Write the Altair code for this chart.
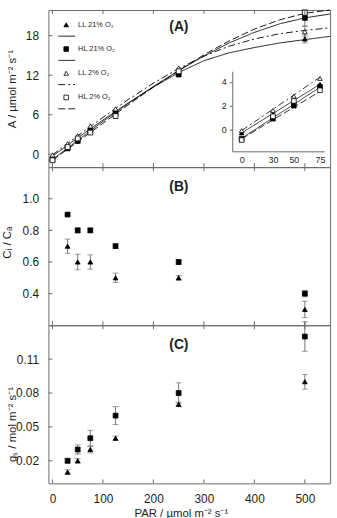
import altair as alt
import pandas as pd

# ---------------- data ----------------
SERIES = ["LL 21% O₂", "HL 21% O₂", "LL 2% O₂", "HL 2% O₂"]
SHAPES = ["triangle-up", "square", "triangle-up", "square"]
FILLED = [True, True, False, False]
DASHES = [[1, 0], [1, 0], [7, 3, 2, 3], [7, 3]]

# (A) net assimilation, µmol m-2 s-1
PAR_A = [0, 30, 50, 75, 125, 250, 500]
A_MEAN = {
    "LL 21% O₂": [-0.3, 1.3, 2.3, 3.8, 6.4, 12.4, 17.5],
    "HL 21% O₂": [-0.8, 0.9, 2.0, 3.6, 6.2, 12.1, 20.7],
    "LL 2% O₂": [-0.1, 1.6, 2.8, 4.3, 6.9, 13.1, 18.6],
    "HL 2% O₂": [-0.9, 1.1, 2.4, 3.3, 5.8, 12.6, 21.5],
}
A_SE = {
    "LL 21% O₂": [0, 0, 0, 0, 0, 0, 0.6],
    "HL 21% O₂": [0, 0, 0, 0, 0, 0, 1.2],
    "LL 2% O₂": [0, 0, 0, 0, 0, 0, 0.8],
    "HL 2% O₂": [0, 0, 0, 0, 0, 0, 0.4],
}
# fitted light-response curves
FIT_PAR = [0, 50, 100, 150, 200, 250, 300, 350, 400, 450, 500, 550]
A_FIT = {
    "LL 21% O₂": [-0.3, 2.5, 5.2, 7.8, 10.2, 12.4, 14.2, 15.4, 16.2, 16.9, 17.4, 17.9],
    "HL 21% O₂": [-0.8, 2.1, 5.0, 7.7, 10.3, 12.7, 14.9, 16.9, 18.5, 19.8, 20.7, 21.3],
    "LL 2% O₂": [-0.1, 2.8, 5.6, 8.3, 10.8, 13.0, 14.9, 16.4, 17.5, 18.3, 18.8, 19.2],
    "HL 2% O₂": [-0.9, 1.9, 4.7, 7.5, 10.2, 12.7, 15.1, 17.2, 19.0, 20.4, 21.4, 21.9],
}
# low-light linear fits (inset)
INSET_PAR = [0, 75]
INSET_FIT = {
    "LL 21% O₂": [-0.3, 3.8],
    "HL 21% O₂": [-0.75, 3.55],
    "LL 2% O₂": [-0.1, 4.4],
    "HL 2% O₂": [-0.8, 3.2],
}

# (B) Ci/Ca and (C) stomatal conductance
PAR_BC = [30, 50, 75, 125, 250, 500]
CICA_LL = [0.7, 0.6, 0.6, 0.5, 0.5, 0.3]
CICA_LL_SE = [0.045, 0.05, 0.045, 0.03, 0.015, 0.052]
CICA_HL = [0.9, 0.8, 0.8, 0.7, 0.6, 0.4]
CICA_HL_SE = [0.005, 0.015, 0.015, 0.015, 0.015, 0.02]
GS_LL = [0.01, 0.02, 0.03, 0.04, 0.07, 0.09]
GS_LL_SE = [0.002, 0.002, 0.003, 0.002, 0.002, 0.0065]
GS_HL = [0.02, 0.03, 0.04, 0.06, 0.08, 0.13]
GS_HL_SE = [0.002, 0.004, 0.007, 0.008, 0.009, 0.013]

X_TICKS = [0, 100, 200, 300, 400, 500]
YA_TICKS = [0, 6, 12, 18]
YB_TICKS = [0.4, 0.6, 0.8, 1.0]
YC_TICKS = [0.02, 0.05, 0.08, 0.11]

# ---------------- styling ----------------
W = 285
HA, HB, HC = 159, 160, 160
FONT = "Liberation Sans"
FRAME = "#6b6b6b"
TXT = "#1e1e1e"
ERR = "#555555"
XSCALE = alt.Scale(domain=[-8, 550], nice=False, zero=False)
X = alt.X("par:Q", scale=XSCALE)


def y_axis(title, values, fmt, tx, ty):
    return alt.Axis(title=title, values=values, format=fmt, ticks=False, domain=False,
                    grid=False, labelFont=FONT, labelFontSize=12, labelColor=TXT,
                    labelPadding=10, titleFont=FONT, titleFontSize=11.5,
                    titleFontWeight="normal", titleColor=TXT, titleAngle=270,
                    titleBaseline="middle", titleX=tx, titleY=ty)


def points(df, yscale, shape, filled, size=24):
    return alt.Chart(df).mark_point(
        shape=shape, filled=True, fill="black" if filled else "white",
        stroke="black", strokeWidth=0.8, size=size, opacity=1,
    ).encode(x=X, y=alt.Y("val:Q", scale=yscale))


def errorbars(df, yscale, cap=6):
    df = df[df["se"] > 0].copy()
    df["lo"] = df["val"] - df["se"]
    df["hi"] = df["val"] + df["se"]
    bar = alt.Chart(df).mark_rule(color=ERR, strokeWidth=0.8).encode(
        x=X, y=alt.Y("lo:Q", scale=yscale), y2="hi:Q")
    lo = alt.Chart(df).mark_tick(color=ERR, orient="horizontal", size=cap, thickness=0.8).encode(
        x=X, y=alt.Y("lo:Q", scale=yscale))
    hi = alt.Chart(df).mark_tick(color=ERR, orient="horizontal", size=cap, thickness=0.8).encode(
        x=X, y=alt.Y("hi:Q", scale=yscale))
    return [bar, lo, hi]


def inward_ticks(height, yvals, yscale, ln=4):
    xt = pd.DataFrame({"par": X_TICKS})
    yt = pd.DataFrame({"val": yvals})
    top = alt.Chart(xt).mark_rule(color=FRAME, strokeWidth=1).encode(
        x=X, y=alt.value(0), y2=alt.value(ln))
    bot = alt.Chart(xt).mark_rule(color=FRAME, strokeWidth=1).encode(
        x=X, y=alt.value(height), y2=alt.value(height - ln))
    left = alt.Chart(yt).mark_rule(color=FRAME, strokeWidth=1).encode(
        y=alt.Y("val:Q", scale=yscale), x=alt.value(0), x2=alt.value(ln))
    return [top, bot, left]


def panel_label(text, x, y):
    return alt.Chart(pd.DataFrame({"t": [text]})).mark_text(
        font=FONT, fontSize=14, fontWeight="bold", color=TXT, align="center", baseline="middle",
    ).encode(text="t:N", x=alt.value(x), y=alt.value(y))


def axis_holder(df, yscale, xaxis, yaxis):
    # invisible layer that carries the axis definitions of a panel
    return alt.Chart(df).mark_point(opacity=0).encode(
        x=alt.X("par:Q", scale=XSCALE, axis=xaxis),
        y=alt.Y("val:Q", scale=yscale, axis=yaxis))


# ---------------- panel A ----------------
ya_scale = alt.Scale(domain=[-1.95, 21.9], nice=False, zero=False)
a_df0 = pd.DataFrame({"par": PAR_A, "val": A_MEAN["HL 2% O₂"]})
a_layers = [axis_holder(a_df0, ya_scale, None,
                        y_axis("A / µmol m⁻² s⁻¹", YA_TICKS, "d", -36, HA / 2))]
for s, dash in zip(SERIES, DASHES):
    fit = pd.DataFrame({"par": FIT_PAR, "val": A_FIT[s]})
    a_layers.append(alt.Chart(fit).mark_line(color="black", strokeWidth=0.9, strokeDash=dash).encode(
        x=X, y=alt.Y("val:Q", scale=ya_scale)))
for s, shp, fl in zip(SERIES, SHAPES, FILLED):
    df = pd.DataFrame({"par": PAR_A, "val": A_MEAN[s], "se": A_SE[s]})
    a_layers += errorbars(df, ya_scale)
    a_layers.append(points(df, ya_scale, shp, fl))
a_layers += inward_ticks(HA, YA_TICKS, ya_scale)

# legend block (symbol, label, line style underneath)
for i, (s, shp, fl, dash) in enumerate(zip(SERIES, SHAPES, FILLED, DASHES)):
    row = pd.DataFrame({"t": [s]})
    yt = 15 + 24.5 * i
    a_layers.append(alt.Chart(row).mark_point(
        shape=shp, filled=True, fill="black" if fl else "white", stroke="black",
        strokeWidth=0.8, size=22, opacity=1).encode(x=alt.value(18), y=alt.value(yt)))
    a_layers.append(alt.Chart(row).mark_text(
        font=FONT, fontSize=7.5, color=TXT, align="left", baseline="middle").encode(
        text="t:N", x=alt.value(30), y=alt.value(yt)))
    a_layers.append(alt.Chart(row).mark_rule(color="black", strokeWidth=0.9, strokeDash=dash).encode(
        x=alt.value(10), x2=alt.value(27), y=alt.value(yt + 11.5)))
a_layers.append(panel_label("(A)", 132, 17))
main_a = alt.layer(*a_layers)

# inset: low-light region
ix = alt.Scale(domain=[-9, 79], range=[186, 279], nice=False, zero=False)
iy = alt.Scale(domain=[-1.85, 4.9], range=[143, 62], nice=False, zero=False)
ix_axis = alt.Axis(orient="bottom", offset=-16, values=[0, 30, 50, 75], title=None,
                   grid=False, labelFont=FONT, labelFontSize=9, labelColor=TXT,
                   tickSize=0, labelPadding=4, domainColor=FRAME, labelFlush=False)
iy_axis = alt.Axis(orient="left", offset=-186, values=[0, 2, 4], title=None,
                   grid=False, labelFont=FONT, labelFontSize=9, labelColor=TXT,
                   tickSize=3, tickColor=FRAME, labelPadding=3, domainColor=FRAME)
in_layers = []
for s, dash in zip(SERIES, DASHES):
    fit = pd.DataFrame({"par": INSET_PAR, "val": INSET_FIT[s]})
    in_layers.append(alt.Chart(fit).mark_line(color="black", strokeWidth=0.8, strokeDash=dash).encode(
        x=alt.X("par:Q", scale=ix, axis=ix_axis), y=alt.Y("val:Q", scale=iy, axis=iy_axis)))
for s, shp, fl in zip(SERIES, SHAPES, FILLED):
    df = pd.DataFrame({"par": PAR_A[:4], "val": A_MEAN[s][:4]})
    in_layers.append(alt.Chart(df).mark_point(
        shape=shp, filled=True, fill="black" if fl else "white", stroke="black",
        strokeWidth=0.8, size=22, opacity=1).encode(
        x=alt.X("par:Q", scale=ix, axis=ix_axis), y=alt.Y("val:Q", scale=iy, axis=iy_axis)))
inset = alt.layer(*in_layers)

panel_a = alt.layer(main_a, inset).resolve_scale(x="independent", y="independent").properties(
    width=W, height=HA)

# ---------------- panel B ----------------
yb_scale = alt.Scale(domain=[0.2, 1.2], nice=False, zero=False)
b_ll = pd.DataFrame({"par": PAR_BC, "val": CICA_LL, "se": CICA_LL_SE})
b_hl = pd.DataFrame({"par": PAR_BC, "val": CICA_HL, "se": CICA_HL_SE})
panel_b = alt.layer(
    axis_holder(b_hl, yb_scale, None, y_axis("Cᵢ / Cₐ", YB_TICKS, ".1f", -41, HB / 2 - 4)),
    *errorbars(b_ll, yb_scale), *errorbars(b_hl, yb_scale),
    points(b_ll, yb_scale, "triangle-up", True), points(b_hl, yb_scale, "square", True),
    *inward_ticks(HB, YB_TICKS, yb_scale),
    panel_label("(B)", 132, 20),
).properties(width=W, height=HB)

# ---------------- panel C ----------------
yc_scale = alt.Scale(domain=[0.0, 0.14], nice=False, zero=False)
c_ll = pd.DataFrame({"par": PAR_BC, "val": GS_LL, "se": GS_LL_SE})
c_hl = pd.DataFrame({"par": PAR_BC, "val": GS_HL, "se": GS_HL_SE})
x_axis_c = alt.Axis(title="PAR / µmol m⁻² s⁻¹", values=X_TICKS, ticks=False, domain=False,
                    grid=False, labelFont=FONT, labelFontSize=12, labelColor=TXT,
                    labelPadding=10, titleFont=FONT, titleFontSize=11.5, titleFontWeight="normal",
                    titleColor=TXT, titlePadding=4, titleX=134)
panel_c = alt.layer(
    axis_holder(c_hl, yc_scale, x_axis_c,
                y_axis("gₛ / mol m⁻² s⁻¹", YC_TICKS, ".2f", -36, HC / 2 + 20)),
    *errorbars(c_ll, yc_scale), *errorbars(c_hl, yc_scale),
    points(c_ll, yc_scale, "triangle-up", True), points(c_hl, yc_scale, "square", True),
    *inward_ticks(HC, YC_TICKS, yc_scale),
    panel_label("(C)", 132, 20),
).properties(width=W, height=HC)

chart = alt.vconcat(panel_a, panel_b, panel_c, spacing=0, bounds="flush").properties(
    padding={"left": 1, "top": 4, "right": 4, "bottom": 2},
    background="white",
).configure_view(stroke=FRAME, strokeWidth=1).configure_axis(grid=False)

chart.save("out.html", embed_options={"renderer": "svg", "actions": False})
